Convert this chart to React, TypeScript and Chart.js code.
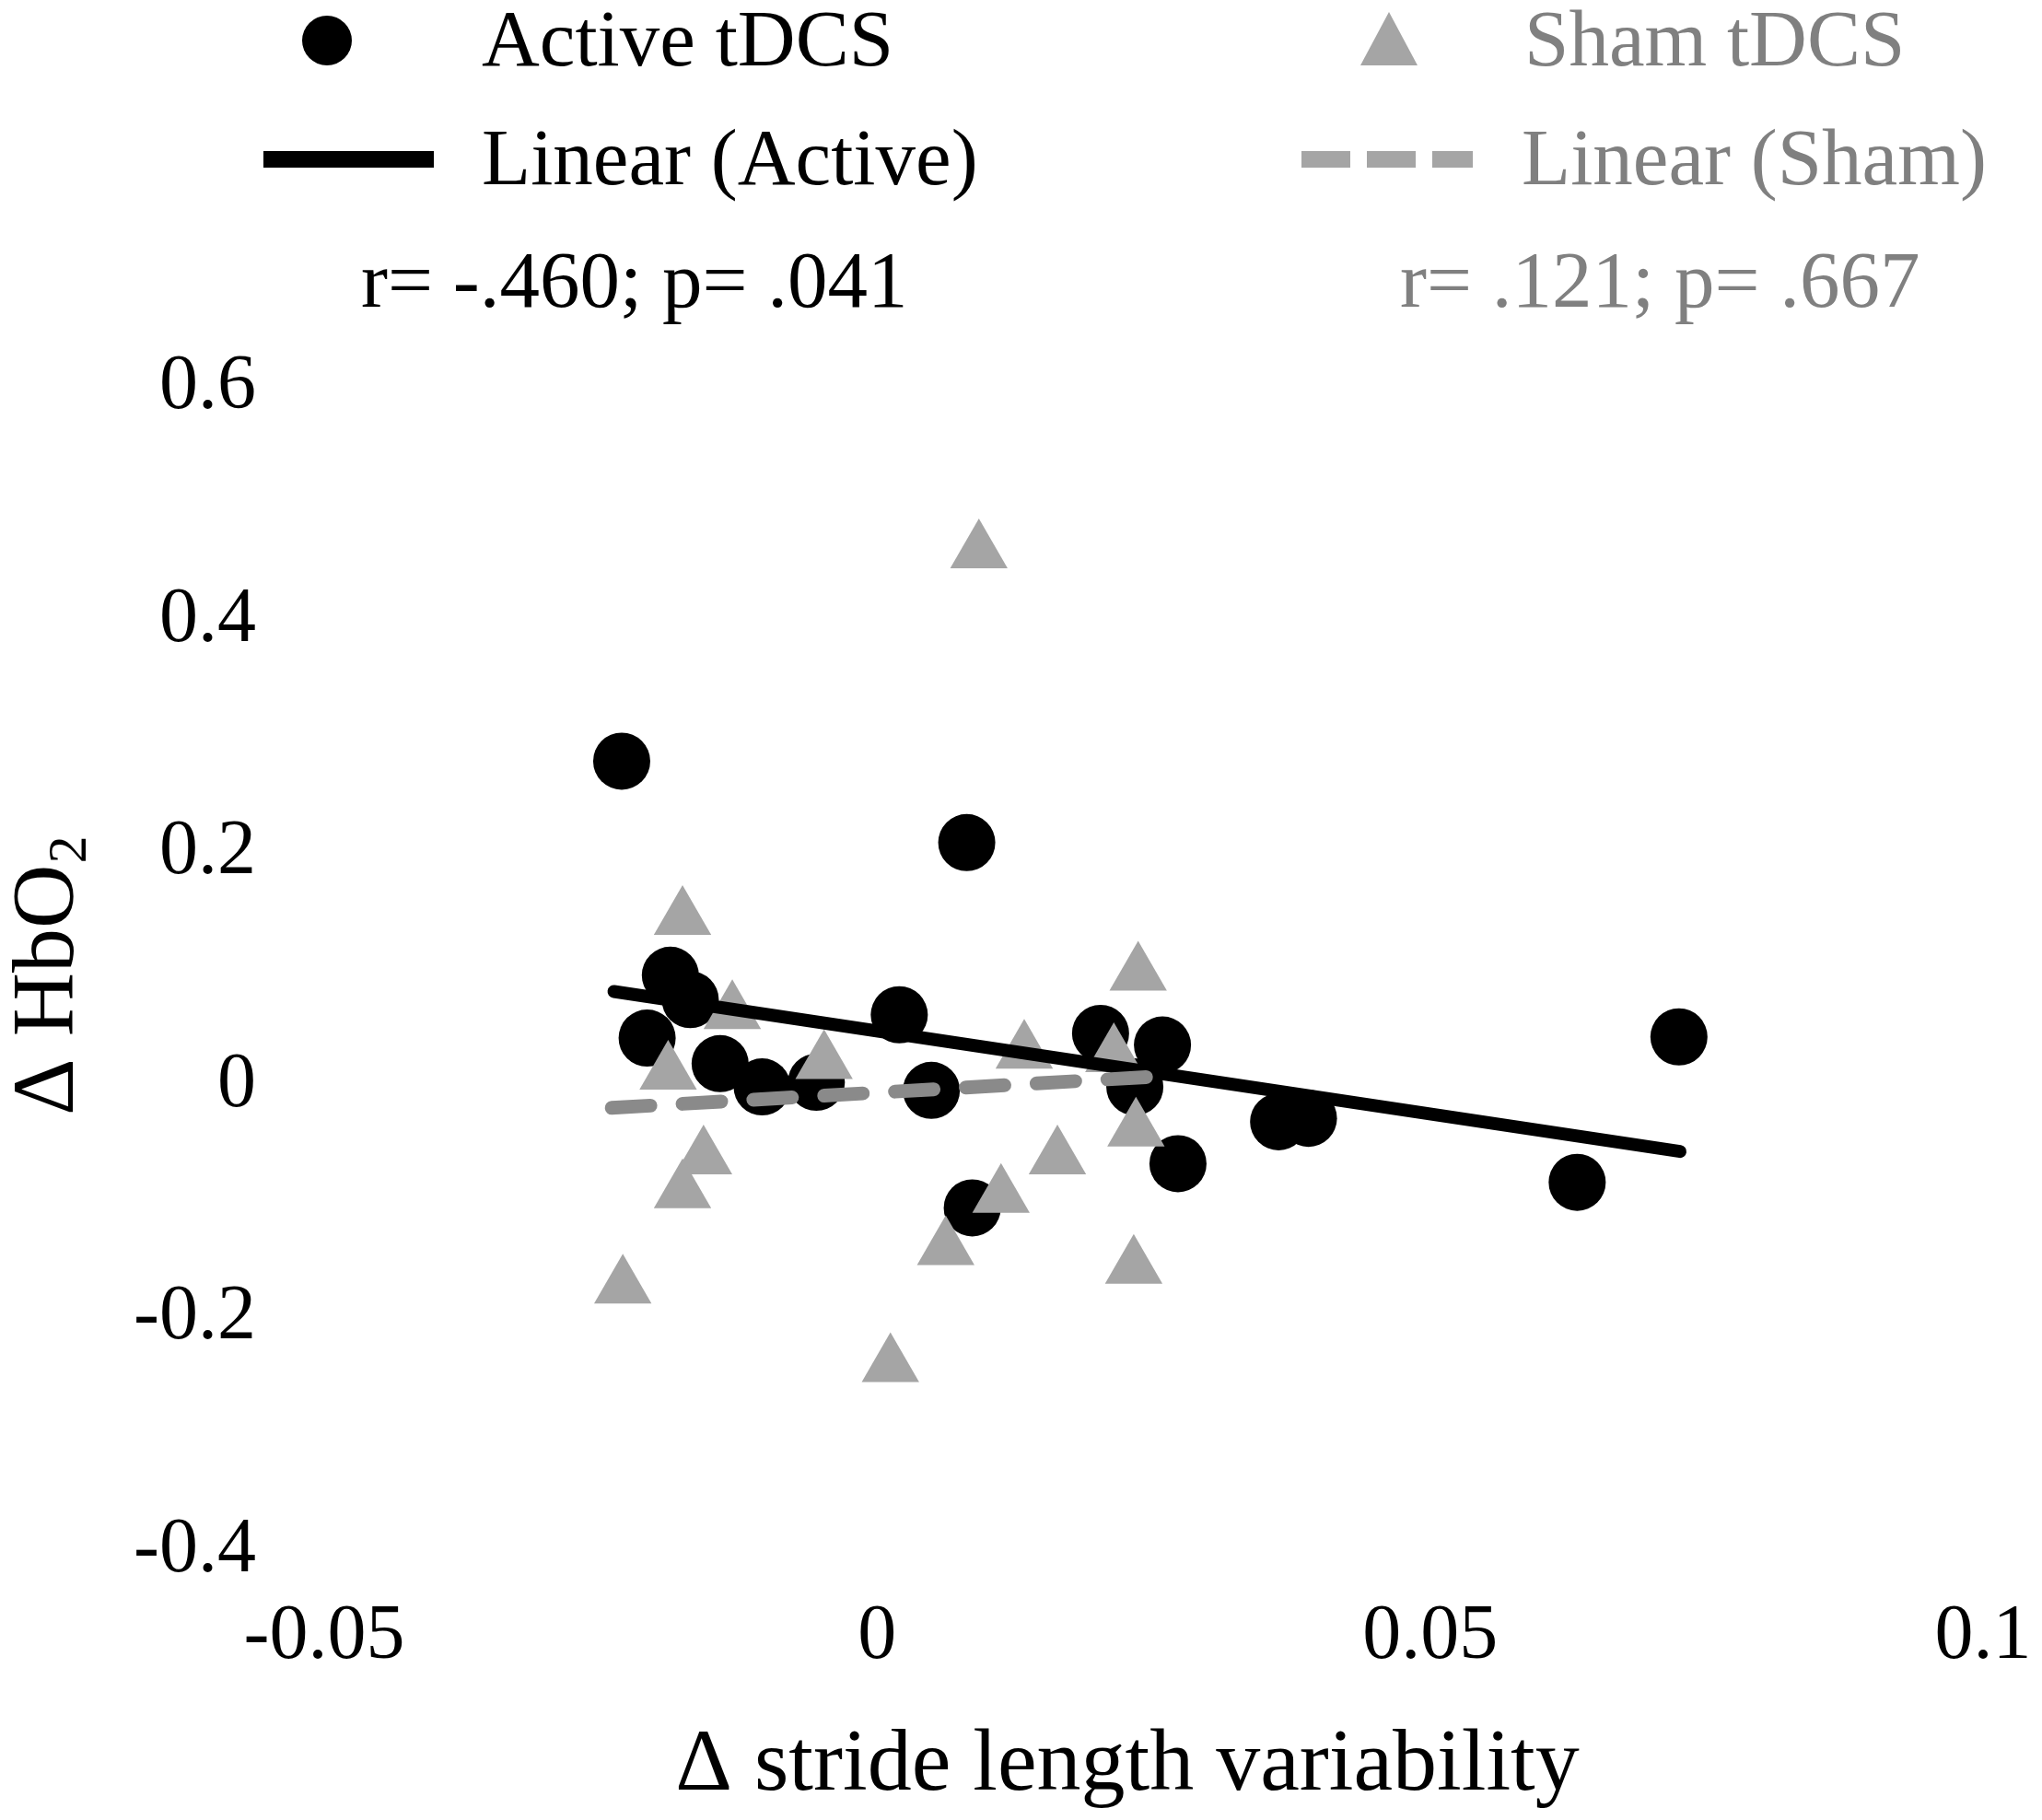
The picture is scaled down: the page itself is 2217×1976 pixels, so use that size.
import React, { useRef, useEffect } from 'react';
import { Chart, registerables } from 'chart.js';

Chart.register(...registerables);

const SERIF = "'Liberation Serif', 'Times New Roman', serif";
const BLACK = '#000000';
const GRAY_MARK = '#a5a5a5';
const GRAY_FIT = '#8a8a8a';
const GRAY_TEXT = '#808080';

// Active tDCS (circles)
const activeX = [-0.0231, 0.0081, -0.0187, -0.0169, -0.0208, -0.0142, -0.0104, -0.0055, 0.002, 0.0049, 0.0086, 0.0202, 0.0233, 0.0258, 0.0272, 0.0363, 0.039, 0.0633, 0.0725];
const activeY = [0.279, 0.209, 0.095, 0.074, 0.041, 0.019, -0.001, 0.003, 0.061, -0.004, -0.105, 0.045, -0.001, 0.035, -0.067, -0.031, -0.028, -0.083, 0.042];

// Sham tDCS (triangles)
const shamX = [0.0092, -0.0176, -0.0131, -0.0189, -0.0048, 0.0133, 0.0236, 0.0214, 0.0234, 0.0163, -0.0157, -0.0176, 0.0112, 0.0062, 0.0232, -0.023, 0.0012];
const shamY = [0.459, 0.144, 0.063, 0.011, 0.02, 0.029, 0.096, 0.026, -0.038, -0.062, -0.062, -0.091, -0.095, -0.14, -0.156, -0.173, -0.2405];

// trend lines, end points
const activeFitX = [-0.0238, 0.0726];
const activeFitY = [0.081, -0.0565];
const shamFitX = [-0.024, 0.0245];
const shamFitY = [-0.019, 0.0075];

const xTicks = [-0.05, 0, 0.05, 0.1];
const xTickLabels = ['-0.05', '0', '0.05', '0.1'];
const yTicks = [-0.4, -0.2, 0, 0.2, 0.4, 0.6];
const yTickLabels = ['-0.4', '-0.2', '0', '0.2', '0.4', '0.6'];

const legendLabels = ['Active tDCS', 'Sham tDCS', 'Linear (Active)', 'Linear (Sham)'];
const statLabels = ['r= -.460; p= .041', 'r= .121; p= .667'];
const xTitle = '\u0394 stride length variability';
const yTitle = '\u0394 HbO';
const yTitleSub = '2';

const toPoints = (xs: number[], ys: number[]) => xs.map((x, i) => ({ x, y: ys[i] }));

// legend block, stats and the axis titles (the y one has a subscript)
const overlay = {
  id: 'overlay',
  afterDraw(chart: any) {
    const ctx = chart.ctx;
    ctx.save();
    ctx.textAlign = 'left';
    ctx.textBaseline = 'alphabetic';
    ctx.font = `87px ${SERIF}`;

    ctx.fillStyle = BLACK;
    ctx.beginPath();
    ctx.arc(355, 44, 27, 0, Math.PI * 2);
    ctx.fill();
    ctx.fillText(legendLabels[0], 523, 71);

    ctx.fillStyle = GRAY_MARK;
    ctx.beginPath();
    ctx.moveTo(1508, 13);
    ctx.lineTo(1539, 71);
    ctx.lineTo(1477, 71);
    ctx.closePath();
    ctx.fill();
    ctx.fillStyle = GRAY_TEXT;
    ctx.fillText(legendLabels[1], 1655, 71);

    ctx.lineCap = 'butt';
    ctx.lineWidth = 18;
    ctx.strokeStyle = BLACK;
    ctx.beginPath();
    ctx.moveTo(286, 173);
    ctx.lineTo(471, 173);
    ctx.stroke();
    ctx.fillStyle = BLACK;
    ctx.fillText(legendLabels[2], 523, 200);

    ctx.strokeStyle = GRAY_MARK;
    ctx.setLineDash([53, 18]);
    ctx.beginPath();
    ctx.moveTo(1413, 173);
    ctx.lineTo(1599, 173);
    ctx.stroke();
    ctx.setLineDash([]);
    ctx.fillStyle = GRAY_TEXT;
    ctx.fillText(legendLabels[3], 1652, 200);

    ctx.fillStyle = BLACK;
    ctx.fillText(statLabels[0], 392, 333);
    ctx.fillStyle = GRAY_TEXT;
    ctx.fillText(statLabels[1], 1520, 333);

    ctx.fillStyle = BLACK;
    ctx.font = `96px ${SERIF}`;
    ctx.textAlign = 'center';
    ctx.fillText(xTitle, 1224, 1943);
    ctx.textAlign = 'left';

    ctx.translate(79, 1211);
    ctx.rotate(-Math.PI / 2);
    ctx.fillText(yTitle, 0, 0);
    const w = ctx.measureText(yTitle).width;
    ctx.font = `60px ${SERIF}`;
    ctx.fillText(yTitleSub, w + 1, 14);
    ctx.restore();
  },
};

function App() {
  const chartRef = useRef<HTMLCanvasElement>(null);
  const chartInstance = useRef<any>(null);

  useEffect(() => {
    document.body.style.margin = '0';
    const ctx = chartRef.current!.getContext('2d');

    if (chartInstance.current) {
      chartInstance.current.destroy();
    }

    chartInstance.current = new Chart(ctx as any, {
      type: 'scatter',
      data: {
        datasets: [
          {
            label: legendLabels[3],
            type: 'line',
            data: toPoints(shamFitX, shamFitY),
            borderColor: GRAY_FIT,
            borderWidth: 15,
            borderDash: [42, 35],
            borderCapStyle: 'round',
            pointRadius: 0,
            showLine: true,
            order: 1,
          },
          {
            label: legendLabels[2],
            type: 'line',
            data: toPoints(activeFitX, activeFitY),
            borderColor: BLACK,
            borderWidth: 14,
            borderCapStyle: 'round',
            pointRadius: 0,
            showLine: true,
            order: 2,
          },
          {
            label: legendLabels[1],
            data: toPoints(shamX, shamY),
            pointStyle: 'triangle',
            pointRadius: 36,
            backgroundColor: GRAY_MARK,
            borderWidth: 0,
            order: 3,
          },
          {
            label: legendLabels[0],
            data: toPoints(activeX, activeY),
            pointStyle: 'circle',
            pointRadius: 31,
            backgroundColor: BLACK,
            borderWidth: 0,
            order: 4,
          },
        ],
      } as any,
      options: {
        responsive: false,
        animation: false,
        events: [],
        layout: {
          padding: { top: 421, right: 64, bottom: 0, left: 0 },
        },
        plugins: {
          legend: { display: false },
          tooltip: { enabled: false },
          title: { display: false },
        },
        scales: {
          x: {
            type: 'linear',
            min: -0.05,
            max: 0.1,
            afterBuildTicks: (s: any) => {
              s.ticks = xTicks.map((v) => ({ value: v }));
            },
            afterFit: (s: any) => {
              s.height = 292;
              s.paddingLeft = 0;
              s.paddingRight = 0;
            },
            grid: { display: false, drawTicks: false },
            border: { display: false },
            ticks: {
              autoSkip: false,
              maxRotation: 0,
              padding: 44,
              color: BLACK,
              font: { family: SERIF, size: 84 },
              callback: (v: any) => xTickLabels[xTicks.indexOf(v)] ?? '',
            },
          },
          y: {
            type: 'linear',
            min: -0.4,
            max: 0.6,
            afterBuildTicks: (s: any) => {
              s.ticks = yTicks.map((v) => ({ value: v }));
            },
            afterFit: (s: any) => {
              s.width = 352;
              s.paddingTop = 0;
              s.paddingBottom = 0;
            },
            grid: { display: false, drawTicks: false },
            border: { display: false },
            ticks: {
              autoSkip: false,
              padding: 74,
              color: BLACK,
              font: { family: SERIF, size: 84 },
              callback: (v: any) => yTickLabels[yTicks.indexOf(v)] ?? '',
            },
          },
        },
      } as any,
      plugins: [overlay],
    });

    return () => {
      if (chartInstance.current) {
        chartInstance.current.destroy();
        chartInstance.current = null;
      }
    };
  }, []);

  return (
    <div style={{ width: 2217, height: 1976, background: '#ffffff' }}>
      <canvas ref={chartRef} width={2217} height={1976} style={{ display: 'block' }}></canvas>
    </div>
  );
}

export default App;
